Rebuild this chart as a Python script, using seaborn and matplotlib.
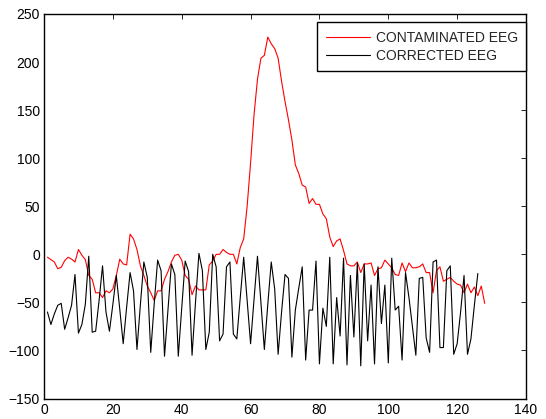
import matplotlib
matplotlib.use("Agg")
import matplotlib.pyplot as plt
import seaborn as sns

# Contaminated EEG (red), samples 1..128
contaminated = [
    -3, -5.5, -8, -15, -13.5, -6.6, -3, -5, -8, 5,
    -1, -5.5, -22, -26, -40, -40, -45, -38, -40, -36,
    -22, -5, -10, -11, 21, 16, 5, -12, -22, -33,
    -40, -48, -38, -38, -26, -18, -8, -1, 0, -6,
    -22, -26, -42, -33, -37, -37, -37, -11, -7, 0,
    0, 5, 2, 0, 0, -10, 7, 16, 50, 95,
    145, 182, 204, 207, 226, 219, 214, 204, 180, 159,
    140, 119, 93, 84, 72, 70, 53, 58, 52, 52,
    42, 37, 18, 8, 14, 16, 4, -10, -12, -12,
    -8, -19, -10, -10, -9, -22, -15, -14, -6, -10,
    -14, -21, -22, -9, -18, -9, -14, -14, -13, -10,
    -19, -19, -40, -17, -13, -28, -26, -24, -28, -31,
    -32, -40, -31, -40, -34, -43, -33, -51,
]

# Corrected EEG (black), samples 1..126
corrected = [
    -60, -73, -62, -53, -51, -78, -66, -53, -21, -82,
    -73, -52, -2, -81, -80, -48, -12, -60, -80, -52,
    -22, -57, -93, -55, -19, -38, -99, -52, -8, -24,
    -102, -52, -6, -17, -106, -58, -10, -21, -106, -56,
    -7, -18, -105, -50, 1, -17, -99, -81, 0, -13,
    -90, -83, -13, -8, -83, -88, -45, -3, -48, -93,
    -47, -2, -50, -99, -52, -8, -36, -104, -60, -21,
    -25, -107, -58, -35, -13, -110, -58, -58, -7, -114,
    -56, -75, -3, -114, -45, -85, -4, -115, -22, -86,
    -9, -116, -10, -90, -32, -114, -13, -72, -32, -113,
    -4, -58, -54, -110, -19, -45, -75, -105, -25, -24,
    -87, -102, -8, -6, -97, -97, -17, -12, -104, -93,
    -60, -22, -104, -88, -53, -20,
]

x_contaminated = list(range(1, len(contaminated) + 1))
x_corrected = list(range(1, len(corrected) + 1))

x_ticks = [0, 20, 40, 60, 80, 100, 120, 140]
y_ticks = [-150, -100, -50, 0, 50, 100, 150, 200, 250]

sns.set_style("white")
plt.rcParams["font.family"] = ["Liberation Sans", "DejaVu Sans"]

fig = plt.figure(figsize=(5.46, 4.19), dpi=100)
fig.subplots_adjust(left=0.0806, right=0.9634, bottom=0.0489, top=0.9666)
ax = fig.add_subplot(111)

sns.lineplot(x=x_contaminated, y=contaminated, color="#ff0000", linewidth=0.8,
             label="CONTAMINATED EEG", ax=ax)
sns.lineplot(x=x_corrected, y=corrected, color="black", linewidth=0.8,
             label="CORRECTED EEG", ax=ax)

ax.set_xlim(0, 140)
ax.set_ylim(-150, 250)
ax.set_xticks(x_ticks)
ax.set_yticks(y_ticks)
ax.tick_params(direction="in", top=True, right=True, length=3.5, width=0.6,
               labelsize=10, colors="black", pad=3)
for s in ax.spines.values():
    s.set_color("black")
    s.set_linewidth(1.0)

# legend box sits in the top right corner, flush with the right edge
leg = ax.legend(loc="upper right", bbox_to_anchor=(1.0, 0.978), borderaxespad=0,
                fontsize=10, frameon=True, fancybox=False, framealpha=1,
                edgecolor="black", handlelength=3.2, handletextpad=0.4,
                borderpad=0.6, labelspacing=0.3)
leg.get_frame().set_linewidth(1.0)

plt.savefig("out.png", dpi=100)
